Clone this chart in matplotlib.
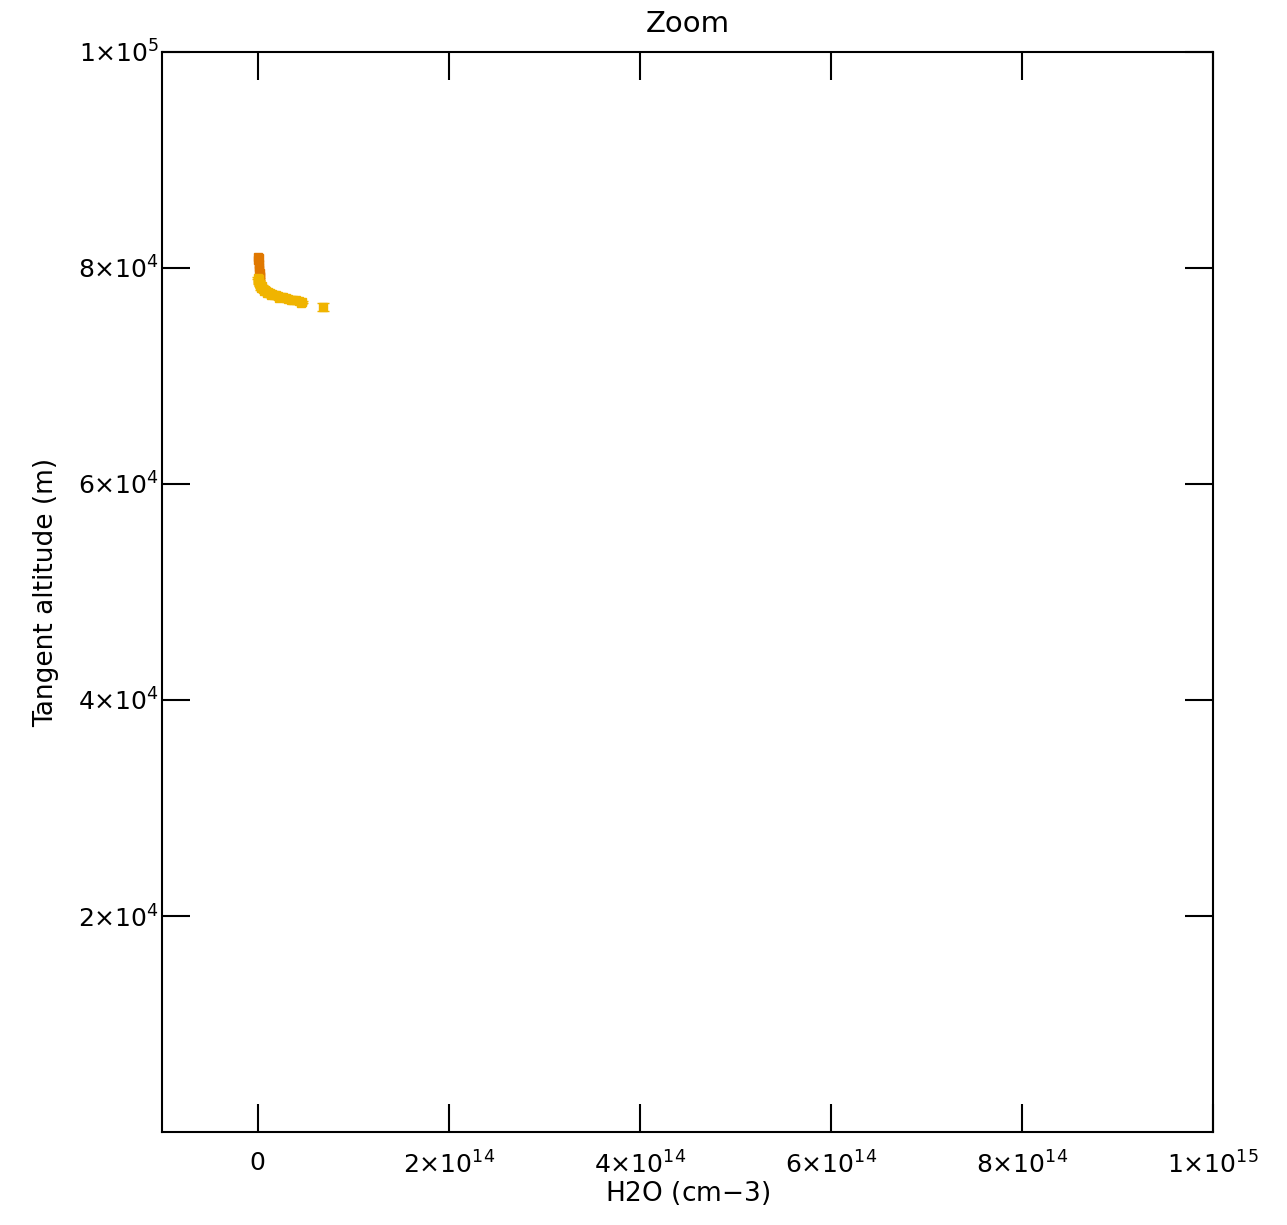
import numpy as np
import matplotlib.pyplot as plt
from matplotlib.ticker import FixedLocator, FixedFormatter

# data
x_orange = [0.5e12, 0.8e12, 1.2e12, 1.5e12, 2.0e12, 2.5e12, 3.0e12, 1.0e12, 2.2e12]
y_orange = [81000, 80700, 80400, 80100, 79800, 79500, 79200, 80900, 79300]

x_yellow = [1e12, 2e12, 3e12, 4e12, 6e12, 9e12, 13e12, 17e12, 21e12, 27e12, 32e12, 37e12, 43e12, 47e12,
            0.5e12, 2.5e12, 5e12, 8e12, 11e12, 15e12, 19e12, 24e12, 30e12, 40e12,
            1.5e12, 4e12, 7e12, 10e12, 14e12, 22e12, 35e12, 45e12, 69e12]
y_yellow = [78980, 78700, 78430, 78240, 78050, 77870, 77680, 77500, 77400, 77310, 77130, 77040, 76950, 76850,
            79100, 78500, 78300, 77950, 77800, 77600, 77450, 77350, 77200, 77000,
            78600, 78100, 77900, 77650, 77450, 77200, 77000, 76750, 76400]
yerr_yellow = [100]*32 + [350]

xticks = [0, 2e14, 4e14, 6e14, 8e14, 1e15]
xlabels = ['0', r'2$\times$10$^{14}$', r'4$\times$10$^{14}$', r'6$\times$10$^{14}$',
           r'8$\times$10$^{14}$', r'1$\times$10$^{15}$']
yticks = [2e4, 4e4, 6e4, 8e4, 1e5]
ylabels = [r'2$\times$10$^{4}$', r'4$\times$10$^{4}$', r'6$\times$10$^{4}$',
           r'8$\times$10$^{4}$', r'1$\times$10$^{5}$']

plt.rcParams['mathtext.default'] = 'regular'
fig = plt.figure(figsize=(12.87, 12.25), dpi=100)
ax = fig.add_axes([0.1259, 0.0759, 0.8166, 0.8817])

ax.errorbar(x_yellow, y_yellow, yerr=yerr_yellow, fmt='s', ms=6, color='#f0b400',
            ecolor='#f0b400', elinewidth=2, capsize=4, lw=0)
ax.plot(x_orange, y_orange, 's', ms=6, color='#e07800')

ax.set_xlim(-1e14, 1e15)
ax.set_ylim(0, 1e5)
ax.xaxis.set_major_locator(FixedLocator(xticks))
ax.xaxis.set_major_formatter(FixedFormatter(xlabels))
ax.yaxis.set_major_locator(FixedLocator(yticks))
ax.yaxis.set_major_formatter(FixedFormatter(ylabels))
ax.tick_params(direction='in', length=20, width=1.5, top=True, right=True, labelsize=18)
ax.tick_params(axis='x', pad=14)
ax.tick_params(axis='y', pad=2)
for s in ax.spines.values():
    s.set_linewidth(1.5)

ax.set_xlabel('H2O (cm$-$3)', fontsize=19, labelpad=0)
ax.set_ylabel('Tangent altitude (m)', fontsize=19, labelpad=14)
ax.set_title('Zoom', fontsize=21, pad=14)

fig.savefig('out.png', dpi=100)
